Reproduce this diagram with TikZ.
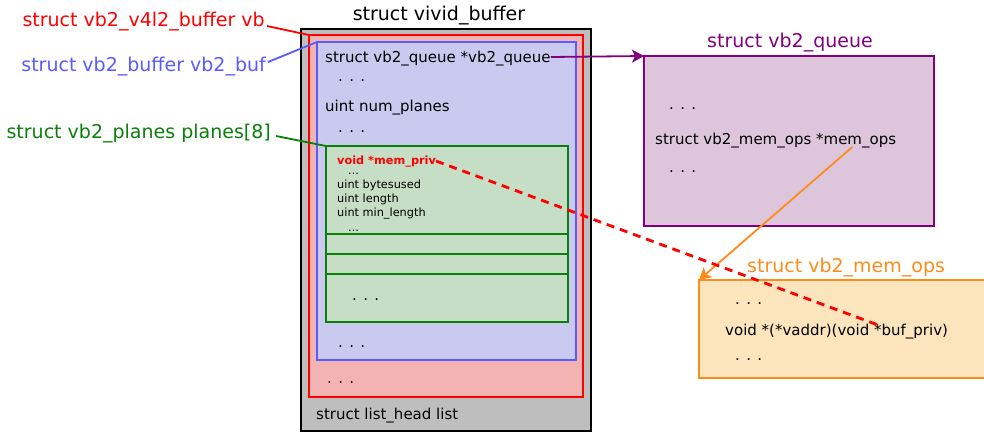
\documentclass[tikz,border=0pt]{standalone}
\usepackage{fontspec}
\setmainfont{DejaVu Sans}
\usetikzlibrary{arrows.meta,positioning,calc}
\definecolor{cbuf}{HTML}{BEBEBE}
\definecolor{cvb}{HTML}{F4B3B3}
\definecolor{cvbd}{HTML}{FF0000}
\definecolor{cvbuf}{HTML}{CACAF0}
\definecolor{cvbufd}{HTML}{5A5AFF}
\definecolor{cplane}{HTML}{C5DEC5}
\definecolor{cplaned}{HTML}{0A7F0A}
\definecolor{cqueue}{HTML}{DDC6DC}
\definecolor{cqueued}{HTML}{800080}
\definecolor{cops}{HTML}{FCE4BD}
\definecolor{copsd}{HTML}{FF8C1A}

\begin{document}
\begin{tikzpicture}[x=1pt, y=-1pt,
  box/.style={draw, line width=2.5pt, anchor=north west, inner sep=0pt, outer sep=0pt},
  field/.style={anchor=base west, inner sep=0pt, font=\fontsize{15}{18}\selectfont},
  small/.style={anchor=base west, inner sep=0pt, font=\fontsize{11.3}{13}\selectfont},
  title/.style={inner sep=0pt, font=\fontsize{19}{22}\selectfont},
  tag/.style={line width=1.8pt},
  ptr/.style={-{Stealth[length=12pt, width=13pt, inset=3pt]}, line width=1.8pt},
]
\useasboundingbox (0,0) rectangle (984,433);

% ------------------------------------------------------------ vivid_buffer
\node[title, anchor=base] (vividt) at (439,21) {struct vivid\_buffer};
\node[box, fill=cbuf, draw=black, line width=2.2pt, minimum width=290pt, minimum height=402pt] (vivid) at (301,29) {};
\node[box, fill=cvb, draw=cvbd, minimum width=274pt, minimum height=362pt] (vb) at (309,35) {};
\node[box, fill=cvbuf, draw=cvbufd, minimum width=259pt, minimum height=318pt] (vbuf) at (317,42) {};

\node[field] (queueptr) at (325,63) {struct vb2\_queue *vb2\_queue};
\node[field] (dots1) at (338,82) {. . .};
\node[field] (numplanes) at (325,111) {uint num\_planes};
\node[field] (dots2) at (338,132) {. . .};

% ------------------------------------------------------------ planes[8]
\node[box, fill=cplane, draw=cplaned, minimum width=242pt, minimum height=88pt] (plane0) at (326,146) {};
\node[box, fill=cplane, draw=cplaned, minimum width=242pt, minimum height=20pt, below=0pt of plane0] (plane1) {};
\node[box, fill=cplane, draw=cplaned, minimum width=242pt, minimum height=20pt, below=0pt of plane1] (plane2) {};
\node[box, fill=cplane, draw=cplaned, minimum width=242pt, minimum height=48pt, below=0pt of plane2] (plane3) {};

\node[small, text=cvbd, font=\fontsize{11.3}{13}\selectfont\bfseries] (mempriv) at (337,164) {void *mem\_priv};
\node[small] (pdots1) at (348,174) {...};
\node[small] (bytesused) at (337,188) {uint bytesused};
\node[small] (length) at (337,202) {uint length};
\node[small] (minlength) at (337,216) {uint min\_length};
\node[small] (pdots2) at (348,231) {...};
\node[field] (pdots3) at (352,300) {. . .};

\node[field] (dots3) at (338,347) {. . .};
\node[field] (dots4) at (327,383) {. . .};
\node[field] (list) at (316,419) {struct list\_head list};

% ------------------------------------------------------------ names on the left
\node[title, anchor=base east, text=cvbd] (vbtag) at (265,27) {struct vb2\_v4l2\_buffer vb};
\node[title, anchor=base east, text=cvbufd] (vbuftag) at (266,72) {struct vb2\_buffer vb2\_buf};
\node[title, anchor=base east, text=cplaned] (planetag) at (271,138) {struct vb2\_planes planes[8]};
\draw[tag, cvbd] ($(vbtag.base east)+(2,-1)$) -- (vb.north west);
\draw[tag, cvbufd] ($(vbuftag.base east)+(2,-10)$) -- (vbuf.north west);
\draw[tag, cplaned] ($(planetag.base east)+(5,-2)$) -- (plane0.north west);

% ------------------------------------------------------------ vb2_queue
\node[title, anchor=base, text=cqueued] (queuet) at (790,48) {struct vb2\_queue};
\node[box, fill=cqueue, draw=cqueued, minimum width=290pt, minimum height=170pt] (queue) at (644,56) {};
\node[field] (qdots1) at (669,110) {. . .};
\node[field] (memops) at (655,144) {struct vb2\_mem\_ops *mem\_ops};
\node[field] (qdots2) at (669,172) {. . .};
\draw[ptr, cqueued] (queueptr.base east) ++(0,-6) -- (queue.north west);

% ------------------------------------------------------------ vb2_mem_ops
\node[title, anchor=base west, text=copsd] (opst) at (747,272) {struct vb2\_mem\_ops};
\node[box, fill=cops, draw=copsd, minimum width=300pt, minimum height=98pt] (ops) at (699,280) {};
\node[field] (odots1) at (735,304) {. . .};
\node[field] (vaddr) at (725,335) {void *(*vaddr)(void *buf\_priv)};
\node[field] (odots2) at (735,360) {. . .};
\coordinate (opsptr) at ($(memops.base east)+(-44,3)$);
\draw[ptr, copsd] (opsptr) -- (ops.north west);

% mem_priv is what vaddr gets as buf_priv
\coordinate (bufpriv) at ($(vaddr.base west)+(153,-10)$);
\draw[cvbd, line width=2.8pt, dash pattern=on 8pt off 6pt] (mempriv.east) -- (bufpriv);
\end{tikzpicture}
\end{document}
